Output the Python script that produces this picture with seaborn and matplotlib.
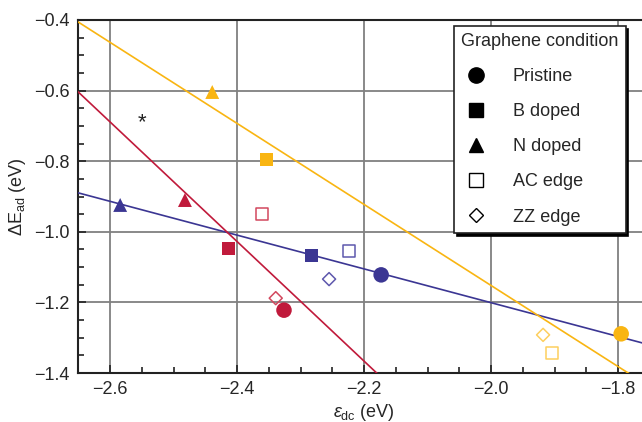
import numpy as np
import pandas as pd
import matplotlib
matplotlib.use("Agg")
import matplotlib.pyplot as plt
from matplotlib.lines import Line2D
from matplotlib.ticker import MultipleLocator, AutoMinorLocator
import seaborn as sns

# ---------------- data ----------------
groups = ["blue", "red", "yellow"]
conditions = ["Pristine", "B doped", "N doped", "AC edge", "ZZ edge"]

blue_x = [-2.173, -2.283, -2.584, -2.224, -2.255]
blue_y = [-1.122, -1.066, -0.924, -1.054, -1.134]
red_x = [-2.326, -2.414, -2.482, -2.361, -2.339]
red_y = [-1.222, -1.046, -0.910, -0.950, -1.188]
yellow_x = [-1.795, -2.354, -2.439, -1.904, -1.918]
yellow_y = [-1.289, -0.794, -0.604, -1.343, -1.292]

fit_slope = [-0.4786, -1.694, -1.148]
fit_intercept = [-2.158, -5.093, -3.448]

x_ticks = [-2.6, -2.4, -2.2, -2.0, -1.8]
y_ticks = [-1.4, -1.2, -1.0, -0.8, -0.6, -0.4]

star_x, star_y = -2.55, -0.692

# ---------------- style ----------------
sns.set_style("ticks")
plt.rcParams["font.family"] = ["Liberation Sans", "DejaVu Sans"]
plt.rcParams["mathtext.fontset"] = "custom"
plt.rcParams["mathtext.rm"] = "Liberation Sans"
plt.rcParams["mathtext.it"] = "Liberation Sans:italic"
plt.rcParams["mathtext.bf"] = "Liberation Sans:bold"
plt.rcParams["mathtext.fallback"] = "stixsans"

colors = {"blue": "#3b3693", "red": "#c01a3b", "yellow": "#f9b512"}
open_colors = {"blue": "#5e58ad", "red": "#d2485e", "yellow": "#fdcf5e"}

rows = []
for g, xs, ys in [("blue", blue_x, blue_y), ("red", red_x, red_y), ("yellow", yellow_x, yellow_y)]:
    for c, x, y in zip(conditions, xs, ys):
        rows.append({"group": g, "condition": c, "x": x, "y": y})
df = pd.DataFrame(rows)

fig = plt.figure(figsize=(6.42, 4.22), dpi=100)
ax = fig.add_axes([78 / 642, 1 - 373 / 422, 572 / 642, 353 / 422])

xlim = (-2.6504, -2.6504 + 572 / 635)
ax.set_xlim(*xlim)
ax.set_ylim(-1.4, -0.4)

# fit lines
xs_line = np.array(xlim)
for g, m, b in zip(groups, fit_slope, fit_intercept):
    sns.lineplot(x=xs_line, y=m * xs_line + b, color=colors[g], lw=1.2, ax=ax, zorder=3)

marker_spec = {
    "Pristine": dict(marker="o", s=125, filled=True),
    "B doped": dict(marker="s", s=88, filled=True),
    "N doped": dict(marker="^", s=100, filled=True),
    "AC edge": dict(marker="s", s=80, filled=False),
    "ZZ edge": dict(marker="D", s=44, filled=False),
}

for g in groups:
    for c in conditions:
        sub = df[(df.group == g) & (df.condition == c)]
        spec = marker_spec[c]
        if spec["filled"]:
            sns.scatterplot(data=sub, x="x", y="y", marker=spec["marker"], s=spec["s"],
                            color=colors[g], edgecolor="none", linewidth=0, ax=ax,
                            zorder=4, legend=False)
        else:
            sns.scatterplot(data=sub, x="x", y="y", marker=spec["marker"], s=spec["s"],
                            facecolors="none", edgecolor=open_colors[g], linewidth=1.1,
                            ax=ax, zorder=4, legend=False)

ax.text(star_x, star_y, "*", fontsize=16, ha="center", va="center", color="#222222")

# axes styling
ax.xaxis.set_major_locator(MultipleLocator(0.2))
ax.yaxis.set_major_locator(MultipleLocator(0.2))
ax.xaxis.set_minor_locator(AutoMinorLocator(4))
ax.yaxis.set_minor_locator(AutoMinorLocator(4))
ax.set_xticks(x_ticks)
ax.set_yticks(y_ticks)
ax.set_xlim(*xlim)
ax.set_ylim(-1.4, -0.4)
ax.grid(True, which="major", color="#808080", lw=1.3)
ax.set_axisbelow(True)
ax.tick_params(which="both", direction="in", labelsize=13, color="#222222")
ax.tick_params(which="major", length=6, width=1.2, pad=6)
ax.tick_params(which="minor", length=4, width=1.2)
for sp in ax.spines.values():
    sp.set_linewidth(1.5)
    sp.set_color("#222222")

ax.set_xlabel(r"$\epsilon_{\mathrm{dc}}$ (eV)", fontsize=13, labelpad=2.5)
ax.set_ylabel(r"$\Delta\mathrm{E}_{\mathrm{ad}}$ (eV)", fontsize=13, labelpad=4)

handles = [
    Line2D([], [], ls="", marker="o", color="k", markersize=11),
    Line2D([], [], ls="", marker="s", color="k", markersize=9.5),
    Line2D([], [], ls="", marker="^", color="k", markersize=10),
    Line2D([], [], ls="", marker="s", mfc="none", mec="k", markersize=9.5, mew=1),
    Line2D([], [], ls="", marker="D", mfc="none", mec="k", markersize=7, mew=1),
]
leg = ax.legend(handles, conditions, title="Graphene condition", loc="upper left",
                bbox_to_anchor=(0.657, 0.983), borderaxespad=0, fontsize=13,
                title_fontsize=13, frameon=True, fancybox=False,
                shadow={"color": "k", "alpha": 1}, edgecolor="#222222",
                framealpha=1, handlelength=1.67, handletextpad=1.2,
                labelspacing=1.0, alignment="left", borderpad=0.4)
leg.get_frame().set_linewidth(1.2)

fig.savefig("out.png", dpi=100)
